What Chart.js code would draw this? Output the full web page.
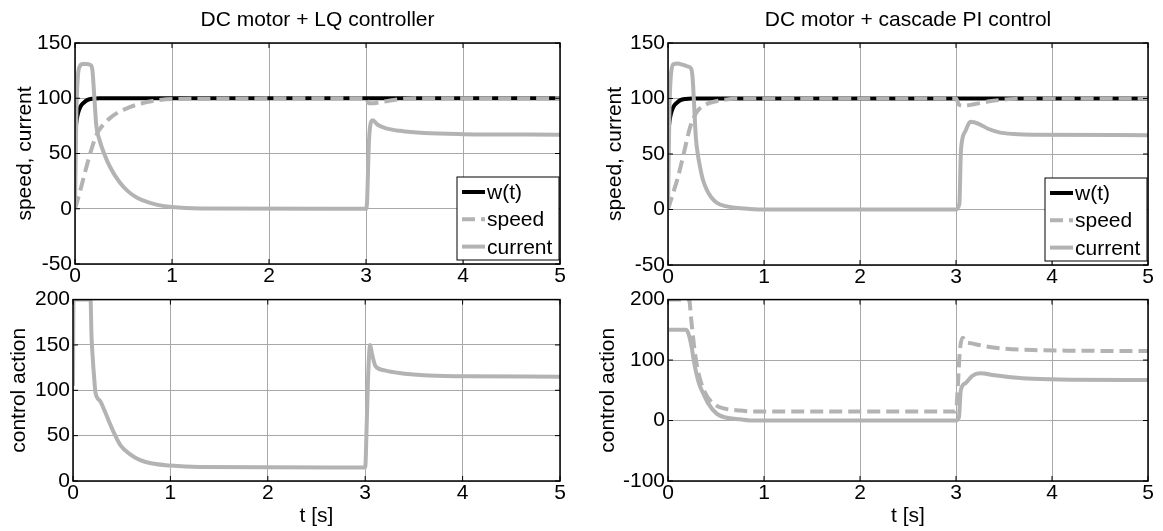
<!DOCTYPE html>
<html lang="en">
<head>
<meta charset="UTF-8">
<title>DC motor: LQ vs cascade PI</title>
<script src="https://cdn.jsdelivr.net/npm/chart.js"></script>
<style>
    body { margin: 0; background: #fff; }
    #wrap { position: relative; width: 1163px; height: 531px; }
    #wrap canvas { position: absolute; }
</style>
</head>
<body>
<div id="wrap">
    <canvas id="lqTop" width="590" height="290" style="left:0;top:0"></canvas>
    <canvas id="lqBottom" width="590" height="247" style="left:0;top:284px"></canvas>
    <canvas id="piTop" width="573" height="290" style="left:590px;top:0"></canvas>
    <canvas id="piBottom" width="573" height="247" style="left:590px;top:284px"></canvas>
</div>

<script>
// tick labels
const timeTicks = [0, 1, 2, 3, 4, 5];
const speedTicks = [-50, 0, 50, 100, 150];
const lqCtrlTicks = [0, 50, 100, 150, 200];
const piCtrlTicks = [-100, 0, 100, 200];

// reference speed w(t), same in both setups
const refT = [0, 0.01, 0.02, 0.04, 0.06, 0.09, 0.13, 0.18, 0.25, 3, 5];
const refW = [62, 75, 82, 89, 93, 96, 98.5, 99.6, 100, 100, 100];

// LQ controller
const lqSpeedT = [0, 0.05, 0.1, 0.15, 0.2, 0.24, 0.3, 0.36, 0.45, 0.55, 0.65, 0.8, 1.0, 3.0, 3.03, 3.08, 3.15, 3.25, 3.4, 3.6, 5];
const lqSpeed = [0, 15, 32, 48, 62, 70, 77, 82, 87.5, 91.5, 94.5, 97.5, 99.3, 100, 95.5, 95.5, 96.5, 98, 99.5, 100, 100];
const lqCurrentT = [0, 0.015, 0.03, 0.05, 0.08, 0.12, 0.16, 0.18, 0.2, 0.22, 0.25, 0.3, 0.36, 0.46, 0.55, 0.64, 0.75, 0.85, 1.0, 1.3, 3.0, 3.01, 3.03, 3.05, 3.07, 3.12, 3.2, 3.35, 3.6, 4, 5];
const lqCurrent = [0, 90, 120, 129, 131, 131, 130, 125, 100, 75, 63, 50, 38, 24, 15.5, 10, 6, 3.5, 1.5, 0.3, 0, 5, 60, 78, 80, 76, 73, 70.5, 68.5, 67.5, 67];
const lqControlT = [0, 0.005, 0.18, 0.19, 0.2, 0.22, 0.23, 0.28, 0.33, 0.38, 0.43, 0.49, 0.58, 0.69, 0.8, 1.0, 1.3, 3.0, 3.015, 3.03, 3.05, 3.07, 3.1, 3.12, 3.2, 3.35, 3.6, 4.0, 5];
const lqControl = [105, 200, 200, 160, 140, 110, 98, 88, 76, 63, 51, 39, 30, 23, 19.5, 17, 15.5, 15, 60, 115, 150, 140, 128, 125, 122, 119, 116.5, 115.5, 115];

// cascade PI
const piSpeedT = [0, 0.05, 0.1, 0.16, 0.23, 0.27, 0.3, 0.35, 0.4, 0.5, 0.6, 0.75, 3.0, 3.03, 3.08, 3.2, 3.35, 3.5, 3.7, 5];
const piSpeed = [0, 14, 28, 49, 74, 83, 88, 92.5, 95, 97.5, 99, 100, 100, 94.5, 93.5, 95, 97.5, 99, 100, 100];
const piCurrentT = [0, 0.015, 0.035, 0.06, 0.1, 0.15, 0.2, 0.24, 0.255, 0.27, 0.29, 0.31, 0.33, 0.36, 0.4, 0.45, 0.51, 0.6, 0.7, 0.85, 1.0, 3.0, 3.035, 3.05, 3.065, 3.1, 3.15, 3.24, 3.34, 3.45, 3.6, 3.8, 5];
const piCurrent = [0, 90, 125, 131, 131.5, 130.5, 129, 127, 120, 98, 65, 50, 40, 28, 18.5, 11, 6, 3, 1.5, 0.5, 0, 0, 5, 50, 63, 71, 79, 77, 72.5, 69.5, 68, 67.3, 67];
const piCtrlSolidT = [0, 0.19, 0.22, 0.25, 0.27, 0.3, 0.33, 0.37, 0.42, 0.51, 0.6, 0.75, 0.9, 3.0, 3.03, 3.05, 3.1, 3.17, 3.25, 3.4, 3.6, 3.8, 4.2, 5];
const piCtrlSolid = [150, 150, 140, 118, 98, 75, 58, 44, 28, 11, 5, 2, 0, 0, 5, 50, 62, 74, 78, 75, 71, 69, 67.5, 67];
const piCtrlDashT = [0, 0.22, 0.24, 0.27, 0.3, 0.35, 0.4, 0.44, 0.5, 0.58, 0.65, 0.75, 0.9, 3.0, 3.02, 3.04, 3.07, 3.1, 3.15, 3.3, 3.5, 3.8, 4.2, 5];
const piCtrlDash = [200, 200, 170, 125, 92, 60, 42, 33, 25, 20, 18, 16.5, 15, 15, 60, 115, 137, 130, 128, 123, 119, 116.5, 115.5, 115];

const GRAY = '#b3b3b3';
const FONT = "'Liberation Sans', Arial, Helvetica, sans-serif";

Chart.defaults.font.family = FONT;
Chart.defaults.font.size = 21;
Chart.defaults.color = '#000';

function pts(t, v) {
    return t.map((x, i) => ({ x: x, y: v[i] }));
}

function line(label, t, v, color, dashed, order) {
    return {
        label: label,
        data: pts(t, v),
        borderColor: color,
        borderWidth: 4,
        borderDash: dashed ? [13, 6] : [],
        borderJoinStyle: 'round',
        pointRadius: 0,
        cubicInterpolationMode: 'monotone',
        order: order
    };
}

// MATLAB-like box, inner ticks, title and legend
const axesDecor = {
    id: 'axesDecor',
    afterDraw(chart, args, opts) {
        const { ctx, chartArea: a, scales } = chart;
        ctx.save();
        ctx.strokeStyle = '#000';
        ctx.lineWidth = 1;
        ctx.beginPath();
        scales.x.ticks.forEach(t => {
            const px = scales.x.getPixelForValue(t.value);
            ctx.moveTo(px, a.bottom); ctx.lineTo(px, a.bottom - 5);
            ctx.moveTo(px, a.top); ctx.lineTo(px, a.top + 5);
        });
        scales.y.ticks.forEach(t => {
            const py = scales.y.getPixelForValue(t.value);
            ctx.moveTo(a.left, py); ctx.lineTo(a.left + 5, py);
            ctx.moveTo(a.right, py); ctx.lineTo(a.right - 5, py);
        });
        ctx.stroke();
        ctx.lineWidth = 1.5;
        ctx.strokeRect(a.left, a.top, a.right - a.left, a.bottom - a.top);

        ctx.font = '21px ' + FONT;
        ctx.fillStyle = '#000';
        if (opts.title) {
            ctx.textAlign = 'center';
            ctx.textBaseline = 'alphabetic';
            ctx.fillText(opts.title, (a.left + a.right) / 2, 26);
        }

        if (opts.legend) {
            const w = 102, h = 83;
            const bx = a.right - 1 - w, by = a.bottom - 4 - h;
            ctx.fillStyle = '#fff';
            ctx.fillRect(bx, by, w, h);
            ctx.lineWidth = 1;
            ctx.strokeStyle = '#000';
            ctx.strokeRect(bx, by, w, h);
            chart.data.datasets.forEach((ds, i) => {
                const base = by + 22 + i * 27.3;
                ctx.beginPath();
                ctx.strokeStyle = ds.borderColor;
                ctx.lineWidth = ds.borderWidth;
                ctx.setLineDash(ds.borderDash);
                ctx.moveTo(bx + 5, base - 7);
                ctx.lineTo(bx + 28, base - 7);
                ctx.stroke();
                ctx.setLineDash([]);
                ctx.fillStyle = '#000';
                ctx.textAlign = 'left';
                ctx.fillText(ds.label, bx + 30, base);
            });
        }
        ctx.restore();
    }
};

function makeChart(id, datasets, cfg) {
    const canvas = document.getElementById(id);
    const yt = cfg.yTicks;
    return new Chart(canvas, {
        type: 'line',
        data: { datasets: datasets },
        options: {
            responsive: false,
            animation: false,
            devicePixelRatio: 1,
            layout: { padding: { left: 0, top: cfg.area.top, right: canvas.width - cfg.area.right, bottom: 0 } },
            plugins: {
                legend: { display: false },
                tooltip: { enabled: false },
                axesDecor: { title: cfg.title, legend: cfg.legend }
            },
            scales: {
                x: {
                    type: 'linear',
                    min: timeTicks[0],
                    max: timeTicks[timeTicks.length - 1],
                    ticks: { stepSize: 1, padding: 0, maxRotation: 0, autoSkip: false },
                    grid: { color: '#a8a8a8', lineWidth: 1, drawTicks: false },
                    border: { display: false },
                    title: { display: !!cfg.xTitle, text: cfg.xTitle, padding: { top: 0, bottom: 2.4 } },
                    afterFit: s => { s.height = canvas.height - cfg.area.bottom; }
                },
                y: {
                    min: yt[0],
                    max: yt[yt.length - 1],
                    ticks: { stepSize: yt[1] - yt[0], padding: 3, autoSkip: false },
                    grid: { color: '#a8a8a8', lineWidth: 1, drawTicks: false },
                    border: { display: false },
                    title: { display: true, text: cfg.yTitle, padding: { top: cfg.yTitlePad, bottom: 0 } },
                    afterFit: s => { s.width = cfg.area.left; }
                }
            }
        },
        plugins: [axesDecor]
    });
}

makeChart('lqTop', [
    line('w(t)', refT, refW, '#000', false, 3),
    line('speed', lqSpeedT, lqSpeed, GRAY, true, 2),
    line('current', lqCurrentT, lqCurrent, GRAY, false, 1)
], { title: 'DC motor + LQ controller', legend: true, yTicks: speedTicks, yTitle: 'speed, current', yTitlePad: 12.4,
     area: { left: 75, top: 43, right: 560, bottom: 264 } });

makeChart('lqBottom', [
    line('control', lqControlT, lqControl, GRAY, false, 1)
], { legend: false, yTicks: lqCtrlTicks, yTitle: 'control action', yTitlePad: 6.4, xTitle: 't [s]',
     area: { left: 73, top: 13, right: 560, bottom: 197 } });

makeChart('piTop', [
    line('w(t)', refT, refW, '#000', false, 3),
    line('speed', piSpeedT, piSpeed, GRAY, true, 2),
    line('current', piCurrentT, piCurrent, GRAY, false, 1)
], { title: 'DC motor + cascade PI control', legend: true, yTicks: speedTicks, yTitle: 'speed, current', yTitlePad: 12.4,
     area: { left: 78, top: 43, right: 558, bottom: 265 } });

makeChart('piBottom', [
    line('current ref', piCtrlSolidT, piCtrlSolid, GRAY, false, 2),
    line('voltage', piCtrlDashT, piCtrlDash, GRAY, true, 1)
], { legend: false, yTicks: piCtrlTicks, yTitle: 'control action', yTitlePad: 6, xTitle: 't [s]',
     area: { left: 78, top: 14, right: 558, bottom: 197 } });
</script>
</body>
</html>
